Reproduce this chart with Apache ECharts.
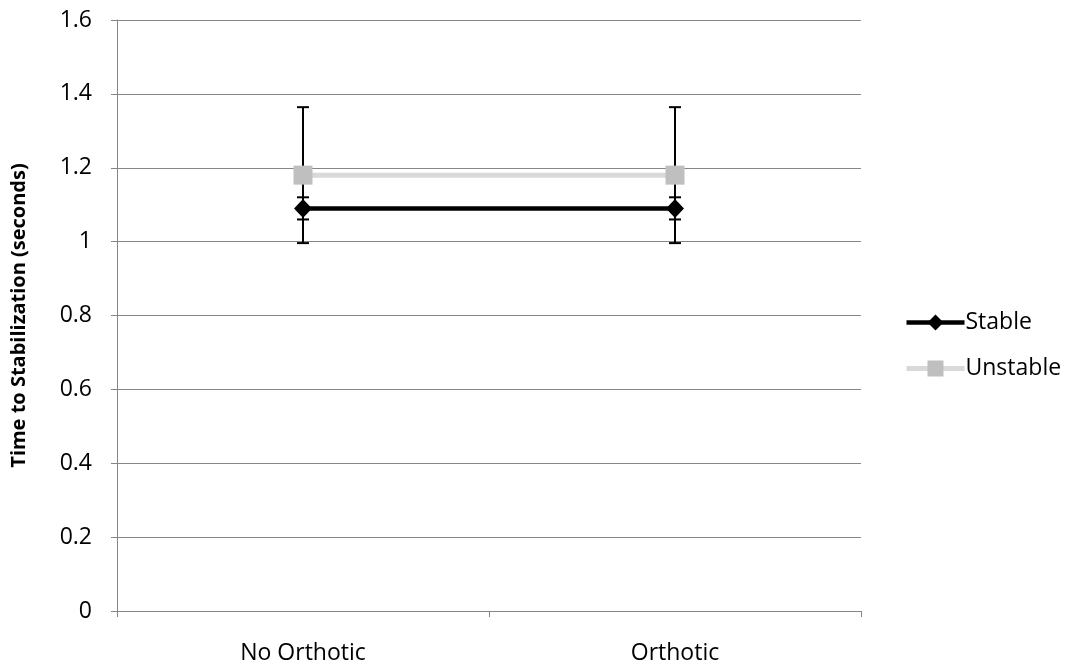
<!DOCTYPE html>
<html><head><meta charset="utf-8">
<script src="https://cdn.jsdelivr.net/npm/echarts@6/dist/echarts.min.js"></script>
<style>html,body{margin:0;padding:0;background:#fff}#c{width:1065px;height:672px}</style>
</head><body><div id="c"></div>
<script>
const categories = ['No Orthotic', 'Orthotic'];
const stableValues = [1.09, 1.09];
const stableErr = [0.03, 0.03];
const unstableValues = [1.18, 1.18];
const unstableErr = [0.184, 0.184];
const yTicks = [0, 0.2, 0.4, 0.6, 0.8, 1, 1.2, 1.4, 1.6];

const errData = [];
categories.forEach((c, i) => {
  errData.push([i, unstableValues[i] - unstableErr[i], unstableValues[i] + unstableErr[i]]);
  errData.push([i, stableValues[i] - stableErr[i], stableValues[i] + stableErr[i]]);
});

const FONT = 'Open Sans';
const chart = echarts.init(document.getElementById('c'));
chart.setOption({
  animation: false,
  grid: { left: 117, right: 204, top: 20, bottom: 61, containLabel: false },
  legend: {
    orient: 'vertical', left: 899, top: 306, itemGap: 23,
    itemWidth: 58, itemHeight: 20,
    textStyle: { fontFamily: FONT, fontSize: 23, color: '#000', padding: [0, 0, 0, -4] },
    data: [
      { name: 'Stable', itemStyle: { color: '#000' }, lineStyle: { color: '#000', width: 4.5 } },
      { name: 'Unstable', itemStyle: { color: '#bfbfbf' }, lineStyle: { color: '#d9d9d9', width: 5 } }
    ]
  },
  xAxis: {
    type: 'category', data: categories, boundaryGap: true,
    axisLine: { lineStyle: { color: '#868686', width: 1 } },
    axisTick: { show: true, length: 6, lineStyle: { color: '#868686' } },
    axisLabel: { fontFamily: FONT, fontSize: 23, color: '#000', margin: 31 }
  },
  yAxis: {
    type: 'value', min: 0, max: 1.6, interval: 0.2,
    name: 'Time to Stabilization (seconds)', nameLocation: 'middle', nameGap: 88,
    nameTextStyle: { fontFamily: FONT, fontWeight: 'bold', fontSize: 20, color: '#000' },
    axisLine: { show: true, lineStyle: { color: '#868686', width: 1 } },
    axisTick: { show: true, length: 6, lineStyle: { color: '#868686' } },
    splitLine: { lineStyle: { color: '#868686', width: 1 } },
    axisLabel: {
      fontFamily: FONT, fontSize: 23, color: '#000', margin: 25,
      formatter: v => { const t = yTicks.find(x => Math.abs(x - v) < 1e-9); return t === undefined ? '' : String(t); }
    }
  },
  series: [
    {
      type: 'custom', name: 'err', z: 1, silent: true,
      data: errData,
      renderItem: (params, api) => {
        const lo = api.coord([api.value(0), api.value(1)]);
        const hi = api.coord([api.value(0), api.value(2)]);
        const hw = 6;
        const st = { stroke: '#000', lineWidth: 2 };
        return { type: 'group', children: [
          { type: 'line', shape: { x1: lo[0], y1: lo[1], x2: hi[0], y2: hi[1] }, style: st },
          { type: 'line', shape: { x1: lo[0] - hw, y1: lo[1], x2: lo[0] + hw, y2: lo[1] }, style: st },
          { type: 'line', shape: { x1: hi[0] - hw, y1: hi[1], x2: hi[0] + hw, y2: hi[1] }, style: st }
        ]};
      },
      encode: { x: 0, y: [1, 2] }
    },
    {
      type: 'line', name: 'Unstable', data: unstableValues, z: 3,
      symbol: 'rect', symbolSize: 19,
      lineStyle: { color: '#d9d9d9', width: 5 },
      itemStyle: { color: '#bfbfbf' }
    },
    {
      type: 'line', name: 'Stable', data: stableValues, z: 4,
      symbol: 'diamond', symbolSize: [18, 19],
      lineStyle: { color: '#000', width: 4.5 },
      itemStyle: { color: '#000' }
    }
  ]
});
</script></body></html>
